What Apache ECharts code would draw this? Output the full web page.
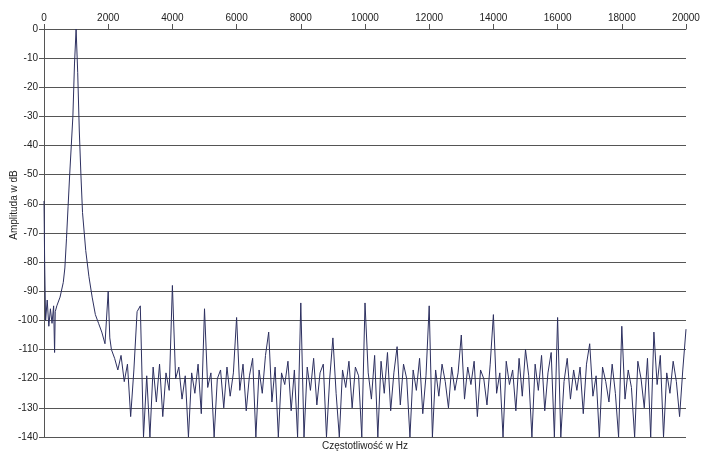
<!DOCTYPE html>
<html><head><meta charset="utf-8">
<script src="https://cdn.jsdelivr.net/npm/echarts@6/dist/echarts.min.js"></script>
<style>html,body{margin:0;padding:0;background:#fff}#c{width:705px;height:461px}</style>
</head><body><div id="c"></div>
<script>
const lowFreqs = [0,20,50,100,150,200,250,300,330,350,400,500,600,650,700,750,800,850,900,950,1000,1050,1100,1150,1200,1300,1400,1500,1600,1700,1800,1900,2000,2050];
const lowAmps  = [-59,-80,-100,-93,-102,-96,-101,-95,-111,-97,-95,-92,-87,-82,-72,-61,-50,-40,-30,-12,0,-15,-35,-50,-63,-76,-85,-92,-98,-101,-104,-108,-90,-106];
const noiseStartHz = 2100, noiseStepHz = 100;
const noiseAmps = [-110,-113,-117,-112,-121,-115,-133,-117,-97,-95,-140,-119,-140,-116,-128,-115,-133,-118,-124,-88,
-120,-116,-127,-119,-140,-118,-125,-115,-132,-96,-123,-118,-140,-120,-117,-130,-116,-126,-118,-99,
-124,-115,-131,-119,-113,-140,-117,-125,-112,-104,-128,-116,-140,-118,-122,-114,-131,-117,-140,-94,
-140,-116,-124,-113,-129,-118,-115,-140,-120,-106,-125,-140,-117,-123,-114,-130,-116,-119,-140,-94,
-118,-127,-112,-140,-114,-125,-111,-131,-118,-109,-129,-115,-120,-140,-117,-124,-113,-132,-119,-95,
-140,-117,-126,-115,-121,-130,-116,-124,-118,-105,-127,-116,-122,-114,-133,-117,-120,-129,-115,-98,
-125,-118,-140,-114,-122,-117,-131,-113,-126,-110,-119,-140,-115,-124,-112,-131,-118,-111,-140,-99,
-140,-121,-113,-127,-117,-124,-116,-132,-115,-108,-126,-119,-140,-116,-121,-128,-115,-125,-140,-102,
-127,-117,-123,-140,-114,-120,-130,-113,-140,-104,-122,-112,-140,-118,-125,-114,-121,-133,-117,-103];
const data = lowFreqs.map((f,i)=>[f,lowAmps[i]]).concat(noiseAmps.map((v,i)=>[noiseStartHz+i*noiseStepHz,v]));
const chart = echarts.init(document.getElementById('c'));
chart.setOption({
  animation:false,
  grid:{left:44,right:19,top:29,bottom:24,containLabel:false,outerBoundsMode:'none'},
  graphic:[{type:'text',x:14,y:205,rotation:Math.PI/2,
    style:{text:'Amplituda w dB',fontFamily:'Liberation Sans',fontSize:10,fill:'#222',align:'center',verticalAlign:'middle'}}],
  xAxis:{type:'value',position:'top',min:0,max:20000,interval:2000,
    name:'Częstotliwość w Hz',nameLocation:'middle',nameGap:-422,
    nameTextStyle:{fontFamily:'Liberation Sans',fontSize:10,color:'#222'},
    axisLine:{lineStyle:{color:'#555'}},axisTick:{show:true,lineStyle:{color:'#555'}},
    axisLabel:{fontFamily:'Liberation Sans',fontSize:10,color:'#222',margin:6,formatter:v=>String(v)},
    splitLine:{show:false}},
  yAxis:{type:'value',min:-140,max:0,interval:10,
    axisLine:{show:true,lineStyle:{color:'#555'}},axisTick:{show:true,lineStyle:{color:'#555'}},
    axisLabel:{fontFamily:'Liberation Sans',fontSize:10,color:'#222',margin:6,formatter:v=>String(v)},
    splitLine:{lineStyle:{color:'#555',width:1}}},
  series:[{type:'line',data:data,showSymbol:false,lineStyle:{color:'#2d3060',width:1}}]
});
</script></body></html>
